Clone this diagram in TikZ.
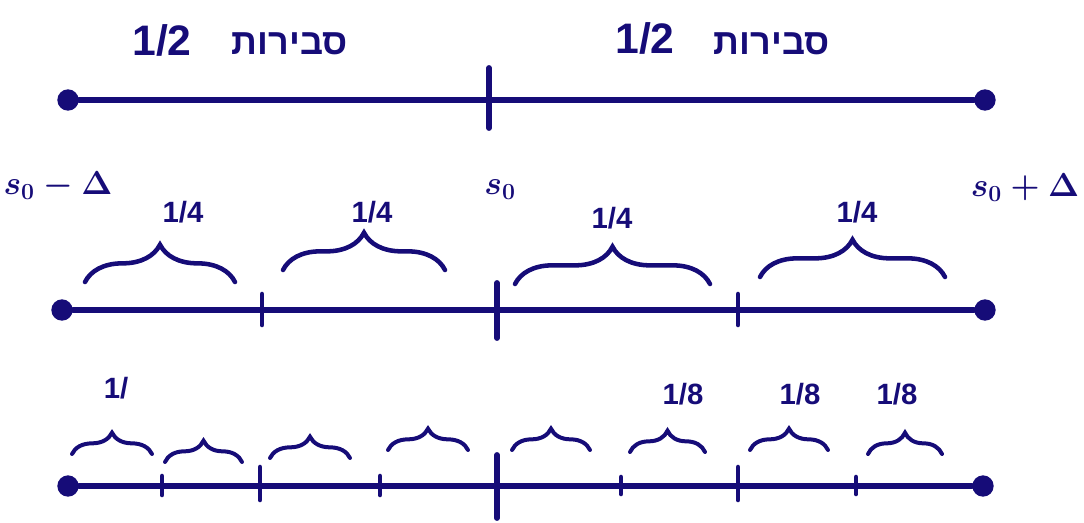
\documentclass[tikz,border=0pt]{standalone}
\usepackage{fontspec}
\setmainfont{Liberation Sans}
\newfontfamily\hebfont[Script=Hebrew]{Liberation Sans}
\TeXXeTstate=1
\usetikzlibrary{decorations.pathreplacing}
\definecolor{ink}{RGB}{22,12,120}
\begin{document}
\begin{tikzpicture}[x=0.75pt,y=-0.75pt,
  every node/.style={text=ink},
  axis/.style={draw=ink,line width=4.2pt,line cap=round},
  tickmark/.style={draw=ink,line width=3.4pt,line cap=round},
  bigtick/.style={draw=ink,line width=4.4pt,line cap=round},
  dot/.style={circle,fill=ink,inner sep=0pt,minimum size=16pt},
  bracebig/.style={draw=ink,decorate,decoration={brace,amplitude=28pt,aspect=0.5},line width=3.4pt,line cap=round},
  bracesmall/.style={draw=ink,decorate,decoration={brace,amplitude=16pt,aspect=0.5},line width=3pt,line cap=round},
  halflbl/.style={font=\bfseries\fontsize{32}{36}\selectfont},
  heblbl/.style={font=\hebfont\bfseries\fontsize{27}{30}\selectfont},
  quartlbl/.style={font=\bfseries\fontsize{22}{26}\selectfont},
  eighthlbl/.style={font=\bfseries\fontsize{22}{26}\selectfont},
  slbl/.style={font=\boldmath\fontsize{26}{30}\selectfont}
]
\useasboundingbox (0,0) rectangle (1084,522);

% ---------- row 1 ----------
\node[dot] (a1) at (68,100) {};
\node[dot] (b1) at (985,100) {};
\draw[axis] (a1) -- (b1);
\coordinate (m1t) at (489,68); \coordinate (m1b) at (489,128);
\draw[bigtick] (m1t) -- (m1b);
\node[halflbl] (h1) at (162,40) {1/2};
\node[heblbl] (p1) at (290,44) {\beginR סבירות\endR};
\node[halflbl] (h2) at (645,38) {1/2};
\node[heblbl] (p2) at (772,44) {\beginR סבירות\endR};

% ---------- row 2 ----------
\node[dot] (a2) at (62,310) {};
\node[dot] (b2) at (985,310) {};
\draw[axis] (a2) -- (b2);
\draw[tickmark] (262,294) -- (262,325);
\draw[bigtick] (497,283) -- (497,338);
\draw[tickmark] (738,294) -- (738,325);
\node[slbl] (sl) at (58,186) {$s_0-\Delta$};
\node[slbl] (sm) at (500,190) {$s_0$};
\node[slbl] (sr) at (1025,188) {$s_0+\Delta$};
\draw[bracebig] (85,282) -- (235,282);
\draw[bracebig] (283,270) -- (445,270);
\draw[bracebig] (515,284) -- (710,284);
\draw[bracebig] (760,277) -- (945,277);
\node[quartlbl] (q1) at (183,212) {1/4};
\node[quartlbl] (q2) at (372,212) {1/4};
\node[quartlbl] (q3) at (612,218) {1/4};
\node[quartlbl] (q4) at (857,212) {1/4};

% ---------- row 3 ----------
\node[dot] (a3) at (68,486) {};
\node[dot] (b3) at (983,486) {};
\draw[axis] (a3) -- (b3);
\draw[tickmark] (162,476) -- (162,495);
\draw[tickmark] (260,467) -- (260,500);
\draw[tickmark] (380,476) -- (380,495);
\draw[bigtick] (497,455) -- (497,518);
\draw[tickmark] (621,477) -- (621,494);
\draw[tickmark] (738,467) -- (738,500);
\draw[tickmark] (856,477) -- (856,494);
\draw[bracesmall] (72,454) -- (152,454);
\draw[bracesmall] (165,462) -- (242,462);
\draw[bracesmall] (270,458) -- (350,458);
\draw[bracesmall] (388,450) -- (468,450);
\draw[bracesmall] (512,450) -- (590,450);
\draw[bracesmall] (630,452) -- (705,452);
\draw[bracesmall] (750,450) -- (828,450);
\draw[bracesmall] (868,454) -- (942,454);
\node[eighthlbl] (e1) at (116,388) {1/};
\node[eighthlbl] (e2) at (683,394) {1/8};
\node[eighthlbl] (e3) at (800,394) {1/8};
\node[eighthlbl] (e4) at (897,394) {1/8};
\end{tikzpicture}
\end{document}
